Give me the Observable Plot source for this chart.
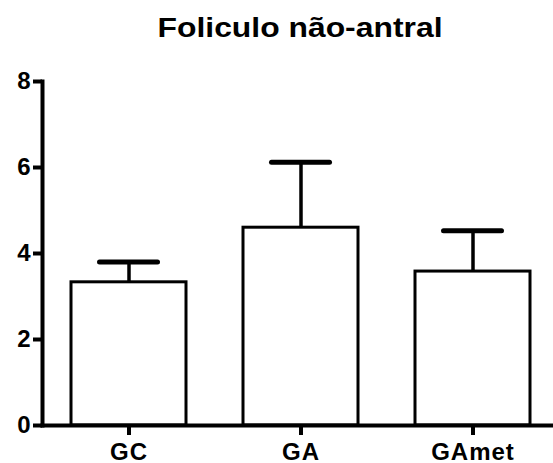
<!DOCTYPE html>
<html>
<head>
<meta charset="utf-8">
<script src="https://cdn.jsdelivr.net/npm/d3@7"></script>
<script src="https://cdn.jsdelivr.net/npm/@observablehq/plot@0.6"></script>
<style>
  body { margin: 0; background: #fff; }
  #wrap { position: relative; width: 553px; height: 463px; overflow: hidden; }
  #title { position: absolute; top: 15px; left: 300px; font-family: "Liberation Sans", Arial, sans-serif;
           font-weight: bold; font-size: 27px; line-height: 1; white-space: nowrap;
           transform: translateX(-50%) scaleX(1.18); color: #000; }
  #chart svg text { letter-spacing: 1px; }
</style>
</head>
<body>
<div id="wrap">
  <div id="title">Foliculo não-antral</div>
  <div id="chart"></div>
</div>
<script>
const groups = ["GC", "GA", "GAmet"];
const means = [3.33, 4.60, 3.58];
const errors = [0.47, 1.52, 0.95];
const yTicks = [0, 2, 4, 6, 8];

const data = groups.map((g, i) => ({group: g, mean: means[i], top: means[i] + errors[i]}));

const chart = Plot.plot({
  width: 553,
  height: 463,
  marginTop: 81,
  marginBottom: 38,
  marginLeft: 42,
  marginRight: 0,
  style: {fontFamily: "Liberation Sans, Arial, sans-serif", fontSize: "24px", fontWeight: "bold", color: "#000", background: "transparent"},
  x: {domain: groups, range: [42, 559], paddingInner: 0.333, paddingOuter: 0.165, align: 0.5},
  y: {domain: [0, 8]},
  marks: [
    Plot.ruleX(data, {x: "group", y1: "mean", y2: "top", stroke: "#000", strokeWidth: 3.5}),
    Plot.tickY(data, {x: "group", y: "top", stroke: "#000", strokeWidth: 5, insetLeft: 28.5, insetRight: 28.5, strokeLinecap: "round"}),
    Plot.barY(data, {x: "group", y: "mean", fill: "#fff", stroke: "#000", strokeWidth: 3}),
    Plot.frame({anchor: "left", stroke: "#000", strokeWidth: 4}),
    Plot.frame({anchor: "bottom", stroke: "#000", strokeWidth: 4}),
    Plot.axisY({ticks: yTicks, tickSize: 9, tickPadding: 2, strokeWidth: 4, tickFormat: d => String(d), fontWeight: "bold", fontSize: 24, label: null}),
    Plot.axisX({tickSize: 10, tickPadding: 7, strokeWidth: 4, fontWeight: "bold", fontSize: 24, label: null})
  ]
});
document.getElementById("chart").appendChild(chart);
</script>
</body>
</html>
